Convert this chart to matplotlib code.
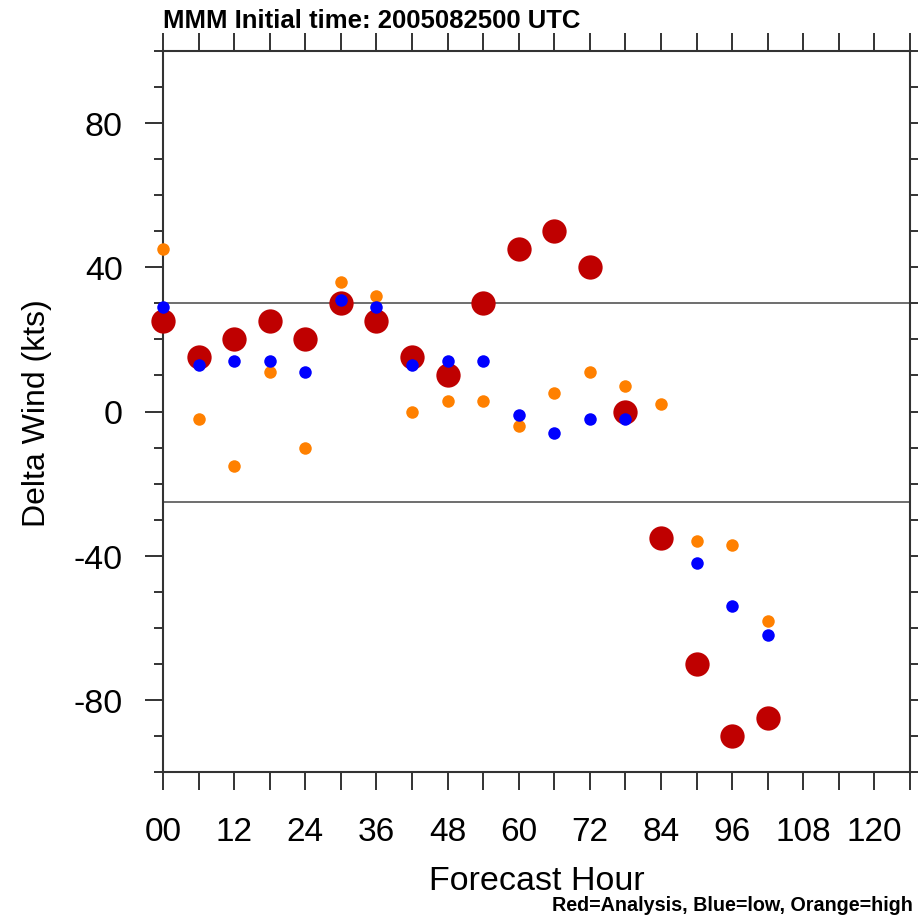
import matplotlib
matplotlib.use("Agg")
import matplotlib.pyplot as plt
from matplotlib import font_manager as fm

# ---- data ----
hours = [0, 6, 12, 18, 24, 30, 36, 42, 48, 54, 60, 66, 72, 78, 84, 90, 96, 102]
analysis = [25, 15, 20, 25, 20, 30, 25, 15, 10, 30, 45, 50, 40, 0, -35, -70, -90, -85]
low_hours = [0, 6, 12, 18, 24, 30, 36, 42, 48, 54, 60, 66, 72, 78, 90, 96, 102]
low = [29, 13, 14, 14, 11, 31, 29, 13, 14, 14, -1, -6, -2, -2, -42, -54, -62]
high_hours = [0, 6, 12, 18, 24, 30, 36, 42, 48, 54, 60, 66, 72, 78, 84, 90, 96, 102]
high = [45, -2, -15, 11, -10, 36, 32, 0, 3, 3, -4, 5, 11, 7, 2, -36, -37, -58]
ref_lines = [30, -25]
xtick_vals = [0, 12, 24, 36, 48, 60, 72, 84, 96, 108, 120]
xtick_labels = ["00", "12", "24", "36", "48", "60", "72", "84", "96", "108", "120"]
ytick_vals = [-80, -40, 0, 40, 80]
ytick_labels = ["-80", "-40", "0", "40", "80"]

names = {f.name for f in fm.fontManager.ttflist}
base = "Liberation Sans" if "Liberation Sans" in names else "DejaVu Sans"
plt.rcParams['font.family'] = [base, 'DejaVu Sans']

W, H = 918, 920
fig = plt.figure(figsize=(W / 100, H / 100), dpi=100)
L, R, T, B = 163, 910, 52, 773
ax = fig.add_axes([L / W, 1 - B / H, (R - L) / W, (B - T) / H])
ax.set_xlim(0, 126)
ax.set_ylim(-100, 100)

for v in ref_lines:
    ax.axhline(v, color="#555555", lw=1.2, zorder=1)

ax.plot(hours, analysis, 'o', color="#BF0000", ms=17.5, mew=0, zorder=3, clip_on=False)
ax.plot(high_hours, high, 'o', color="#FF8000", ms=9, mew=0, zorder=4, clip_on=False)
ax.plot(low_hours, low, 'o', color="#0000FF", ms=9, mew=0, zorder=5, clip_on=False)

ax.set_xticks(xtick_vals)
ax.set_xticklabels(xtick_labels)
ax.set_xticks(list(range(0, 127, 6)), minor=True)
ax.set_yticks(ytick_vals)
ax.set_yticklabels(ytick_labels)
ax.set_yticks(list(range(-100, 101, 10)), minor=True)

tkc = "#333333"
ax.tick_params(axis='x', which='both', direction='out', length=13, width=1.4,
               color=tkc, top=True, labelsize=24, pad=19)
ax.tick_params(axis='y', which='major', direction='out', length=13, width=1.4,
               color=tkc, right=True, labelsize=24.5, pad=16)
ax.tick_params(axis='y', which='minor', direction='out', length=6.5, width=1.4,
               color=tkc, right=True)
for s in ax.spines.values():
    s.set_linewidth(1.5)
    s.set_color(tkc)

fig.text(L / W, 1 - 28 / H, "MMM Initial time: 2005082500 UTC", ha='left',
         va='baseline', fontsize=18.5, fontweight='bold')
fig.text((L + R) / 2 / W, 1 - 890 / H, "Forecast Hour", ha='center',
         va='baseline', fontsize=24.5)
fig.text(37 / W, 1 - 413 / H, "Delta Wind (kts)", ha='center', va='center',
         rotation=90, fontsize=23)
fig.text(913 / W, 1 - 911 / H, "Red=Analysis, Blue=low, Orange=high", ha='right',
         va='baseline', fontsize=14.2, fontweight='bold')

fig.savefig("out.png", dpi=100)
